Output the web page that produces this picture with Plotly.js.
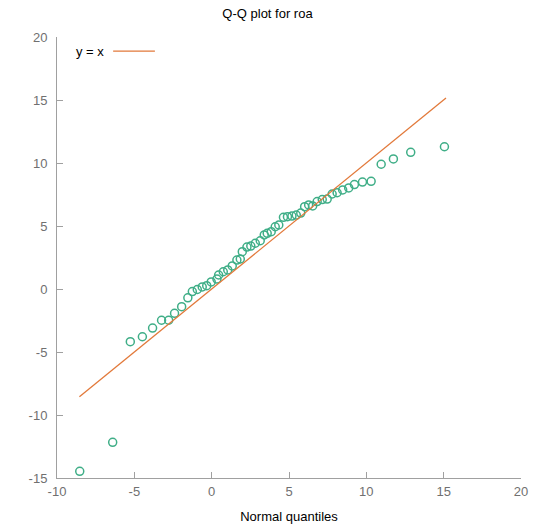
<!DOCTYPE html>
<html>
<head>
<meta charset="utf-8">
<script src="https://cdn.plot.ly/plotly-3.0.1.min.js"></script>
<style>html,body{margin:0;padding:0;background:#fff;}#chart{width:535px;height:524px;}</style>
</head>
<body>
<div id="chart"></div>
<script>
// Normal quantiles (x) vs sample quantiles of roa (y)
var normalQuantiles = [-8.53, -6.40, -5.26, -4.48, -3.82, -3.24, -2.78, -2.40, -1.94, -1.54,
  -1.25, -0.93, -0.61, -0.32, -0.03, 0.34, 0.45, 0.75, 1.04, 1.33,
  1.63, 1.85, 1.98, 2.28, 2.53, 2.82, 3.14, 3.40, 3.59, 3.85,
  4.11, 4.34, 4.64, 4.90, 5.19, 5.47, 5.76, 6.01, 6.27, 6.53,
  6.82, 7.15, 7.47, 7.79, 8.11, 8.47, 8.86, 9.23, 9.75, 10.31,
  10.96, 11.75, 12.87, 15.05];
var roaQuantiles = [-14.47, -12.17, -4.18, -3.79, -3.10, -2.48, -2.48, -1.93, -1.40, -0.70,
  -0.20, -0.04, 0.16, 0.26, 0.56, 0.79, 1.11, 1.37, 1.51, 1.83,
  2.30, 2.38, 2.96, 3.33, 3.41, 3.63, 3.83, 4.29, 4.42, 4.55,
  4.94, 5.08, 5.69, 5.74, 5.79, 5.87, 6.03, 6.53, 6.67, 6.59,
  6.94, 7.10, 7.14, 7.54, 7.64, 7.86, 8.02, 8.29, 8.49, 8.55,
  9.90, 10.32, 10.85, 11.29];
var refLineX = [-8.55, 15.15];
var refLineY = [-8.55, 15.15];
var xTickVals = [-10, -5, 0, 5, 10, 15, 20];
var xTickText = ['-10', '-5', '0', '5', '10', '15', '20'];
var yTickVals = [-15, -10, -5, 0, 5, 10, 15, 20];
var yTickText = ['-15', '-10', '-5', '0', '5', '10', '15', '20'];

var FONT = 'Liberation Sans, Arial, sans-serif';
var traces = [
  {
    x: normalQuantiles, y: roaQuantiles, type: 'scatter', mode: 'markers',
    marker: {symbol: 'circle-open', size: 8, color: '#3fae87', line: {width: 1.5, color: '#3fae87'}},
    showlegend: false, hoverinfo: 'x+y'
  },
  {
    x: refLineX, y: refLineY, type: 'scatter', mode: 'lines',
    line: {color: '#e2793a', width: 1.3},
    name: 'y = x', showlegend: false
  }
];

var axisCommon = {
  showgrid: false, zeroline: false, showline: true, linecolor: '#a0a0a0', linewidth: 1,
  ticks: 'inside', ticklen: 6, tickcolor: '#a0a0a0', tickwidth: 1,
  tickfont: {family: FONT, size: 13, color: '#707070'}, mirror: false
};

var layout = {
  width: 535, height: 524,
  margin: {l: 57, r: 14, t: 37, b: 46},
  paper_bgcolor: '#fff', plot_bgcolor: '#fff',
  font: {family: FONT, color: '#000'},
  title: {text: 'Q-Q plot for roa', font: {family: FONT, size: 13, color: '#000'},
          x: 0.5, xanchor: 'center', y: 1 - 13 / 524, yref: 'container', yanchor: 'middle'},
  xaxis: Object.assign({}, axisCommon, {
    range: [-10, 20], tickvals: xTickVals, ticktext: xTickText, ticklabelstandoff: 1,
    title: {text: 'Normal quantiles', font: {family: FONT, size: 13, color: '#000'}, standoff: 14}
  }),
  yaxis: Object.assign({}, axisCommon, {
    range: [-15, 20], tickvals: yTickVals, ticktext: yTickText, ticklabelstandoff: 6
  }),
  annotations: [{
    xref: 'paper', yref: 'paper', x: 0.037, y: 0.967, xanchor: 'left', yanchor: 'middle',
    text: 'y = x', showarrow: false, font: {family: FONT, size: 13, color: '#000'}
  }],
  shapes: [{
    type: 'line', xref: 'paper', yref: 'paper', x0: 0.121, x1: 0.211, y0: 0.968, y1: 0.968,
    line: {color: '#e2793a', width: 1.3}
  }]
};

Plotly.newPlot('chart', traces, layout, {displayModeBar: false, staticPlot: true});
</script>
</body>
</html>
